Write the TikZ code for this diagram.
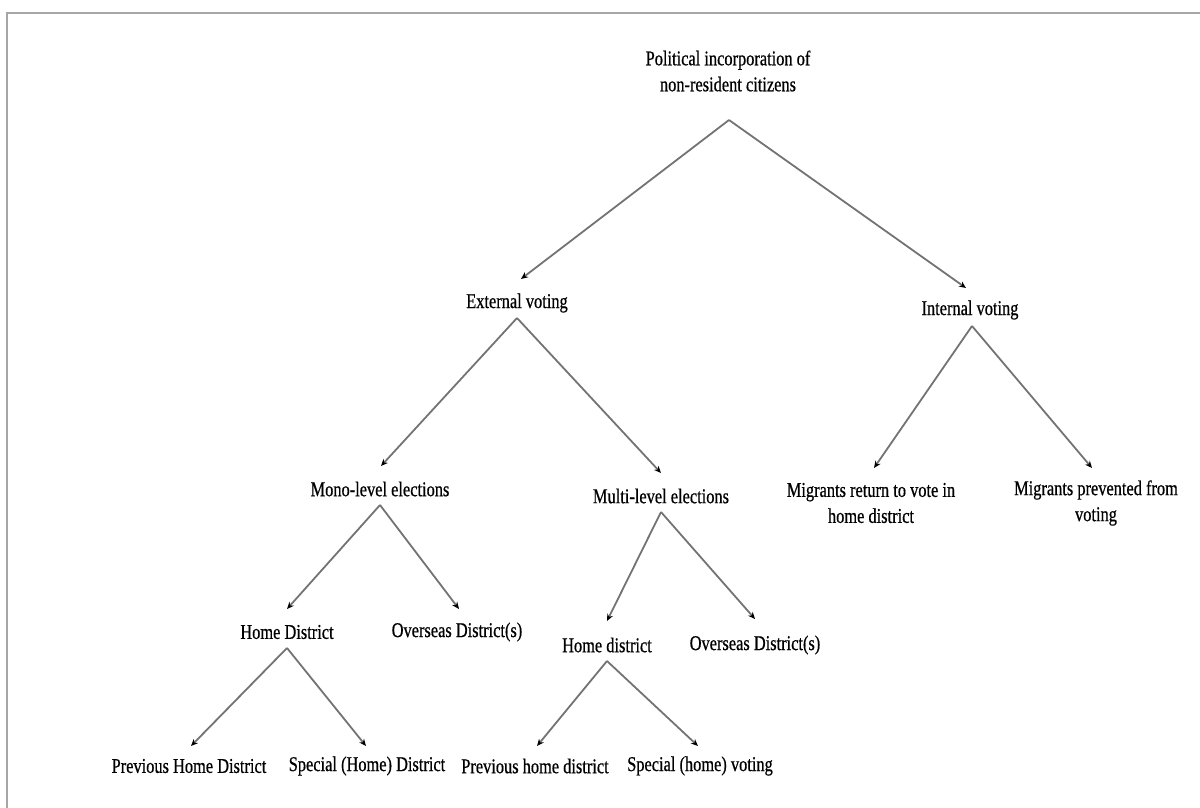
\documentclass[tikz,border=0pt]{standalone}
\usepackage{fontspec}
\setmainfont{Liberation Serif}[FakeStretch=0.78,FakeBold=0.6]
\usetikzlibrary{arrows.meta}

\tikzset{
  term/.style={font=\fontsize{21}{26}\selectfont, align=center, inner sep=0pt},
  treeedge/.style={draw=black!55, line width=1.8pt, -{Stealth[length=7pt,width=6pt,black]}}
}

\begin{document}
\begin{tikzpicture}[x=1pt,y=-1pt]

    % Page size and the grey frame (top and left side only)
    \useasboundingbox (0,0) rectangle (1200,808);
    \draw[black!35, line width=2pt] (1200,13) -- (7,13) -- (7,808);

    % Level 0
    \node[term] (root) at (728,71) {Political incorporation of\\non-resident citizens};

    % Level 1
    \node[term] (ext) at (517,303) {External voting};
    \node[term] (int) at (970,310) {Internal voting};

    % Level 2
    \node[term] (mono)    at (380,489) {Mono-level elections};
    \node[term] (multi)   at (661,496) {Multi-level elections};
    \node[term] (migret)  at (871,503) {Migrants return to vote in\\home district};
    \node[term] (migprev) at (1096,503) {Migrants prevented from\\voting};

    % Level 3
    \node[term] (homeA) at (287,632) {Home District};
    \node[term] (overA) at (457,632) {Overseas District(s)};
    \node[term] (homeB) at (607,645) {Home district};
    \node[term] (overB) at (755,645) {Overseas District(s)};

    % Level 4
    \node[term] (prevA) at (189,766) {Previous Home District};
    \node[term] (specA) at (367,766) {Special (Home) District};
    \node[term] (prevB) at (535,766) {Previous home district};
    \node[term] (specB) at (700,766) {Special (home) voting};

    % Split points under each parent
    \coordinate (root-s)  at (729,120);
    \coordinate (ext-s)   at (517,318);
    \coordinate (int-s)   at (972,326);
    \coordinate (mono-s)  at (380,505);
    \coordinate (multi-s) at (661,512);
    \coordinate (homeA-s) at (287,648);
    \coordinate (homeB-s) at (607,661);

    % Arrow ends above each child
    \coordinate (ext-t)     at (521,279);
    \coordinate (int-t)     at (966,288);
    \coordinate (mono-t)    at (381,466);
    \coordinate (multi-t)   at (661,473);
    \coordinate (migret-t)  at (874,468);
    \coordinate (migprev-t) at (1092,468);
    \coordinate (homeA-t)   at (287,609);
    \coordinate (overA-t)   at (459,609);
    \coordinate (homeB-t)   at (607,621);
    \coordinate (overB-t)   at (755,619);
    \coordinate (prevA-t)   at (191,746);
    \coordinate (specA-t)   at (366,746);
    \coordinate (prevB-t)   at (537,746);
    \coordinate (specB-t)   at (698,746);

    % Branches
    \draw[treeedge] (root-s) -- (ext-t);
    \draw[treeedge] (root-s) -- (int-t);
    \draw[treeedge] (ext-s) -- (mono-t);
    \draw[treeedge] (ext-s) -- (multi-t);
    \draw[treeedge] (int-s) -- (migret-t);
    \draw[treeedge] (int-s) -- (migprev-t);
    \draw[treeedge] (mono-s) -- (homeA-t);
    \draw[treeedge] (mono-s) -- (overA-t);
    \draw[treeedge] (multi-s) -- (homeB-t);
    \draw[treeedge] (multi-s) -- (overB-t);
    \draw[treeedge] (homeA-s) -- (prevA-t);
    \draw[treeedge] (homeA-s) -- (specA-t);
    \draw[treeedge] (homeB-s) -- (prevB-t);
    \draw[treeedge] (homeB-s) -- (specB-t);

\end{tikzpicture}
\end{document}
